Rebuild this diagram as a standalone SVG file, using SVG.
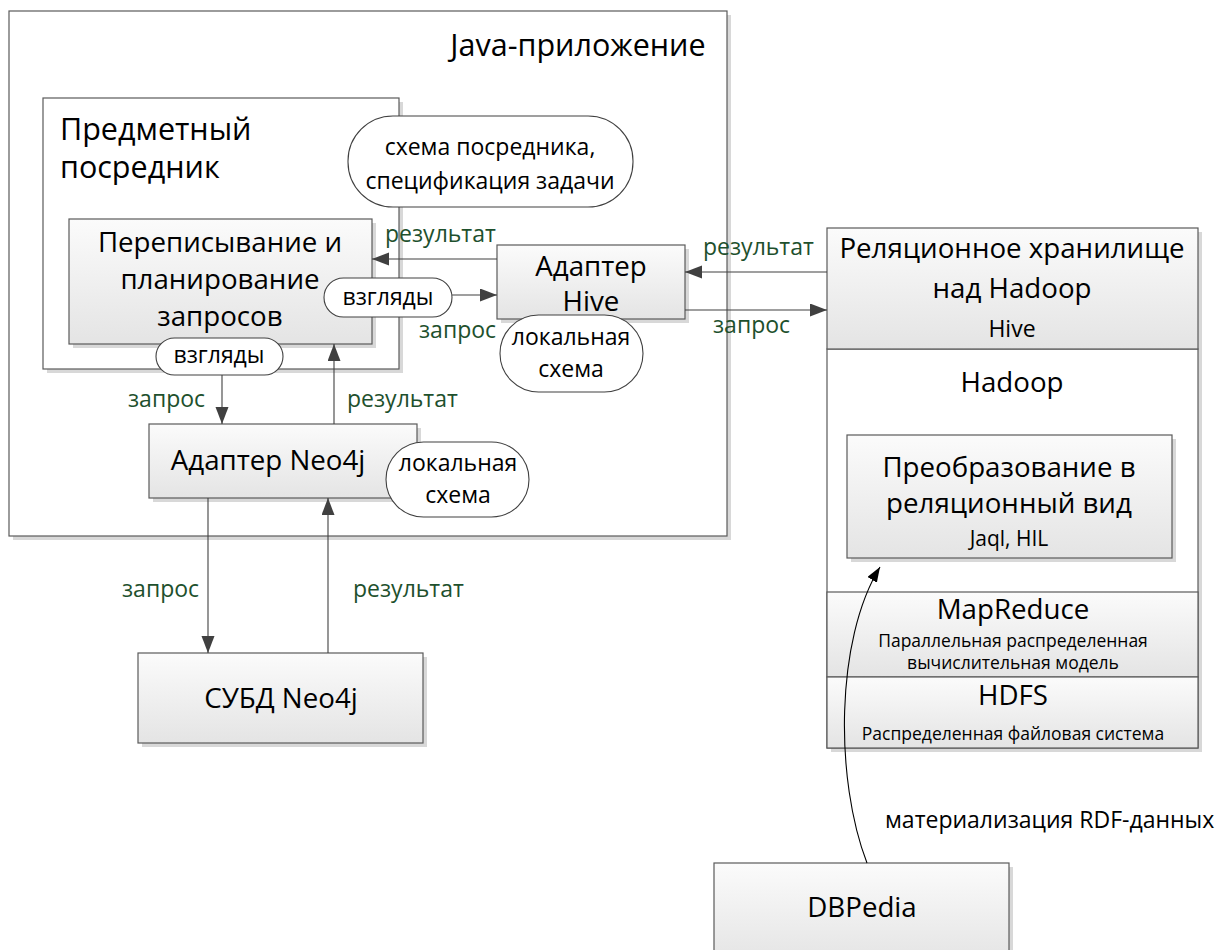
<svg xmlns="http://www.w3.org/2000/svg" width="1217" height="950" viewBox="0 0 1217 950">
<defs>
<linearGradient id="g" x1="0" y1="0" x2="0" y2="1">
<stop offset="0" stop-color="#fbfbfb"/>
<stop offset="1" stop-color="#e4e4e4"/>
</linearGradient>
<marker id="ah" markerUnits="userSpaceOnUse" markerWidth="18" markerHeight="14" refX="17" refY="6.5" orient="auto">
<path d="M0,0 L17,6.5 L0,13 z" fill="#404040"/>
</marker>
<marker id="ahb" markerUnits="userSpaceOnUse" markerWidth="16" markerHeight="12" refX="15" refY="5.5" orient="auto">
<path d="M0,0 L15,5.5 L0,11 z" fill="#000"/>
</marker>
</defs>
<style>
text{font-family:"Open Sans","Noto Sans","DejaVu Sans",sans-serif;fill:#000}
.ttl{font-size:30.5px}
.big{font-size:27.7px}
.mid{font-size:23px}
.sm{font-size:23px}
.sm2{font-size:21px}
.xs{font-size:17.5px}
.lbl{font-size:23px;fill:#1e502d}
.c{text-anchor:middle}
.box{stroke:#5a5a5a;stroke-width:1.2;fill:url(#g)}
.wbox{stroke:#5a5a5a;stroke-width:1.2;fill:#fff}
.sh{fill:#d8d8d8}
.oval{stroke:#404040;stroke-width:1.1;fill:#fff}
.ln{stroke:#404040;stroke-width:1.1;fill:none;marker-end:url(#ah)}
</style>
<rect width="1217" height="950" fill="#fff"/>

<g id="java-app">
<rect class="sh" x="13" y="15" width="718" height="525"/>
<rect class="wbox" x="9" y="11" width="718" height="525"/>
<text class="ttl" x="578" y="56" text-anchor="middle">Java-приложение</text>
</g>

<g id="mediator">
<rect class="sh" x="47" y="102" width="356" height="271"/>
<rect class="wbox" x="43" y="98" width="356" height="271"/>
<text class="ttl" x="60" y="140">Предметный</text>
<text class="ttl" x="60" y="178">посредник</text>
</g>

<g id="schema-spec">
<rect class="oval" x="348" y="116" width="285" height="91" rx="45" ry="45"/>
<text class="mid c" x="490" y="155">схема посредника,</text>
<text class="mid c" x="490" y="189">спецификация задачи</text>
</g>

<g id="rewriting">
<rect class="sh" x="73" y="223" width="303" height="125"/>
<rect class="box" x="69" y="219" width="303" height="125"/>
<text class="big c" x="220" y="252">Переписывание и</text>
<text class="big c" x="220" y="289">планирование</text>
<text class="big c" x="220" y="326">запросов</text>
</g>

<g id="views-hive">
<rect class="oval" x="324" y="278" width="128" height="39" rx="19.5" ry="19.5"/>
<text class="mid c" x="388" y="305">взгляды</text>
</g>

<g id="views-neo4j">
<rect class="oval" x="156" y="338" width="127" height="37" rx="18.5" ry="18.5"/>
<text class="mid c" x="219" y="363">взгляды</text>
</g>

<g id="hive-adapter">
<rect class="sh" x="501" y="249" width="188" height="74"/>
<rect class="box" x="497" y="245" width="188" height="74"/>
<text class="big c" x="591" y="276">Адаптер</text>
<text class="big c" x="591" y="311">Hive</text>
</g>

<g id="hive-local-schema">
<rect class="oval" x="500" y="315" width="143" height="77" rx="38.5" ry="38.5"/>
<text class="mid c" x="571" y="345">локальная</text>
<text class="mid c" x="571" y="377">схема</text>
</g>

<g id="neo4j-adapter">
<rect class="sh" x="153" y="428" width="268" height="74"/>
<rect class="box" x="149" y="424" width="268" height="74"/>
<text class="big c" x="268" y="470">Адаптер Neo4j</text>
</g>

<g id="neo4j-local-schema">
<rect class="oval" x="386" y="442" width="143" height="75" rx="37.5" ry="37.5"/>
<text class="mid c" x="458" y="471">локальная</text>
<text class="mid c" x="458" y="503">схема</text>
</g>

<g id="neo4j-dbms">
<rect class="sh" x="142" y="657" width="285" height="90"/>
<rect class="box" x="138" y="653" width="285" height="90"/>
<text class="big c" x="281" y="708">СУБД Neo4j</text>
</g>

<g id="hadoop-stack">
<rect class="sh" x="831" y="232" width="371" height="520"/>
<rect class="wbox" x="827" y="349" width="371" height="399"/>
<text class="big c" x="1012" y="392">Hadoop</text>
</g>

<g id="relational-store">
<rect class="box" x="827" y="228" width="371" height="121"/>
<text class="big c" x="1012" y="258">Реляционное хранилище</text>
<text class="big c" x="1012" y="298">над Hadoop</text>
<text class="sm c" x="1012" y="337">Hive</text>
</g>

<g id="transform">
<rect class="sh" x="851" y="439" width="325" height="123"/>
<rect class="box" x="847" y="435" width="325" height="123"/>
<text class="big c" x="1009" y="477">Преобразование в</text>
<text class="big c" x="1009" y="513">реляционный вид</text>
<text class="sm2 c" x="1009" y="546">Jaql, HIL</text>
</g>

<g id="mapreduce">
<rect class="box" x="827" y="592" width="371" height="85"/>
<text class="big c" x="1013" y="619">MapReduce</text>
<text class="xs c" x="1013" y="647">Параллельная распределенная</text>
<text class="xs c" x="1013" y="669">вычислительная модель</text>
</g>

<g id="hdfs">
<rect class="box" x="827" y="677" width="371" height="71"/>
<text class="big c" x="1013" y="705">HDFS</text>
<text class="xs c" x="1013" y="740">Распределенная файловая система</text>
</g>

<g id="dbpedia">
<rect class="sh" x="718" y="867" width="295" height="100"/>
<rect class="box" x="714" y="863" width="295" height="100"/>
<text class="big c" x="862" y="917">DBPedia</text>
</g>

<g id="connectors">
<line class="ln" x1="497" y1="259" x2="372" y2="259"/>
<line class="ln" x1="452" y1="295" x2="497" y2="295"/>
<line class="ln" x1="827" y1="272" x2="685" y2="272"/>
<line class="ln" x1="685" y1="310" x2="827" y2="310"/>
<line class="ln" x1="222" y1="375" x2="222" y2="424"/>
<line class="ln" x1="334" y1="424" x2="334" y2="344"/>
<line class="ln" x1="208" y1="498" x2="208" y2="653"/>
<line class="ln" x1="328" y1="653" x2="328" y2="498"/>
<path d="M867,863 C835,780 835,640 880,567" stroke="#000" stroke-width="1.1" fill="none" marker-end="url(#ahb)"/>
<text class="lbl" x="385" y="242">результат</text>
<text class="lbl" x="419" y="338">запрос</text>
<text class="lbl" x="703" y="255">результат</text>
<text class="lbl" x="713" y="333">запрос</text>
<text class="lbl" x="128" y="407">запрос</text>
<text class="lbl" x="347" y="407">результат</text>
<text class="lbl" x="122" y="597">запрос</text>
<text class="lbl" x="353" y="597">результат</text>
<text class="mid" x="885" y="828">материализация RDF-данных</text>
</g>
</svg>
